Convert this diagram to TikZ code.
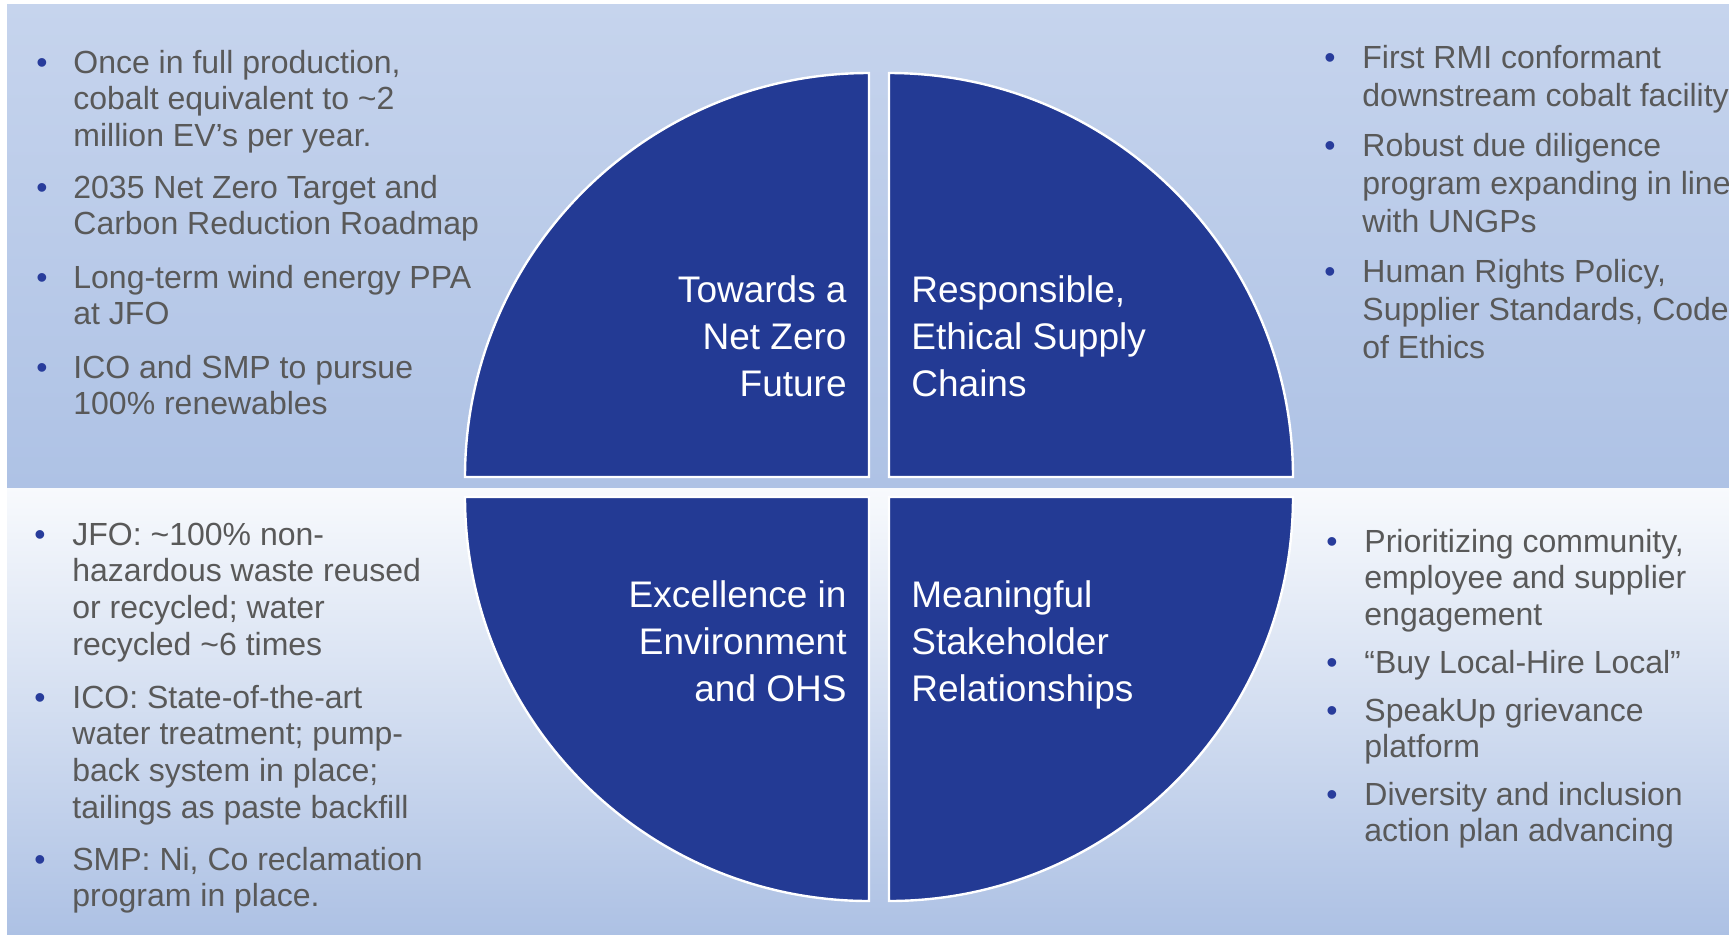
\documentclass[tikz,border=0pt]{standalone}
\usepackage{fontspec}
\setmainfont{Liberation Sans}
\definecolor{quadblue}{RGB}{35,58,148}
\definecolor{dotblue}{RGB}{40,60,155}
\definecolor{txtgray}{RGB}{89,89,89}
\definecolor{bandtopA}{RGB}{198,212,237}
\definecolor{bandbotA}{RGB}{174,194,229}
\definecolor{bandtopB}{RGB}{248,250,253}
\definecolor{bandbotB}{RGB}{173,193,228}
\tikzset{
  quad/.style={fill=quadblue, draw=white, line width=1.2pt},
  bul/.style={anchor=base west, inner sep=0pt, align=left, text=txtgray,
    font=\fontsize{16}{18.35}\selectfont},
  bulr/.style={bul, font=\fontsize{16}{19.1}\selectfont},
  bdot/.style={anchor=base, inner sep=0pt, text=dotblue, font=\fontsize{16}{18}\selectfont},
  lblL/.style={anchor=base east, inner sep=0pt, align=right, text=white,
    font=\fontsize{18.5}{23.5}\selectfont},
  lblR/.style={anchor=base west, inner sep=0pt, align=left, text=white,
    font=\fontsize{18.5}{23.5}\selectfont},
}
\begin{document}
\begin{tikzpicture}[x=0.5pt,y=-0.5pt]
\useasboundingbox (0,0) rectangle (1729,934);
\clip (0,0) rectangle (1729,934);
\fill[white] (0,0) rectangle (1729,934);
\shade[top color=bandtopA, bottom color=bandbotA] (7,4) rectangle (1729,487);
\shade[top color=bandtopB, bottom color=bandbotB] (7,488) rectangle (1729,934);

% quadrants
\draw[quad] (869,477) -- (465,477) arc[start angle=180, end angle=90, radius=202pt] -- cycle;
\draw[quad] (889,477) -- (889,73) arc[start angle=90, end angle=0, radius=202pt] -- cycle;
\draw[quad] (869,497) -- (465,497) arc[start angle=180, end angle=270, radius=202pt] -- cycle;
\draw[quad] (889,497) -- (1293,497) arc[start angle=0, end angle=-90, radius=202pt] -- cycle;

% quadrant labels (anchored at the baseline of the last line)
\node[lblL] (lnz) at (847,396) {Towards a\\Net Zero\\Future};
\node[lblR] (lrc) at (911,396) {Responsible,\\Ethical Supply\\Chains};
\node[lblL] (lex) at (847,701) {Excellence in\\Environment\\and OHS};
\node[lblR] (lms) at (911,701) {Meaningful\\Stakeholder\\Relationships};

% top-left bullets
\node[bdot] (tld1) at (42,73) {•};
\node[bul] (tl1) at (73,146.4) {Once in full production,\\cobalt equivalent to \textasciitilde2\\million EV’s per year.};
\node[bdot] (tld2) at (42,198) {•};
\node[bul] (tl2) at (73,234.7) {2035 Net Zero Target and\\Carbon Reduction Roadmap};
\node[bdot] (tld3) at (42,288) {•};
\node[bul] (tl3) at (73,324.7) {Long-term wind energy PPA\\at JFO};
\node[bdot] (tld4) at (42,378) {•};
\node[bul] (tl4) at (73,414.7) {ICO and SMP to pursue\\100\% renewables};

% top-right bullets
\node[bdot] (trd1) at (1330,68) {•};
\node[bulr] (tr1) at (1362,106.2) {First RMI conformant\\downstream cobalt facility};
\node[bdot] (trd2) at (1330,156) {•};
\node[bulr] (tr2) at (1362,232.4) {Robust due diligence\\program expanding in line\\with UNGPs};
\node[bdot] (trd3) at (1330,282) {•};
\node[bulr] (tr3) at (1362,358.4) {Human Rights Policy,\\Supplier Standards, Code\\of Ethics};

% bottom-left bullets
\node[bdot] (bld1) at (40,545) {•};
\node[bul] (bl1) at (72,655.1) {JFO: \textasciitilde100\% non-\\hazardous waste reused\\or recycled; water\\recycled \textasciitilde6 times};
\node[bdot] (bld2) at (40,708) {•};
\node[bul] (bl2) at (72,818.1) {ICO: State-of-the-art\\water treatment; pump-\\back system in place;\\tailings as paste backfill};
\node[bdot] (bld3) at (40,870) {•};
\node[bul] (bl3) at (72,906.7) {SMP: Ni, Co reclamation\\program in place.};

% bottom-right bullets
\node[bdot] (brd1) at (1332,552) {•};
\node[bul] (br1) at (1364,625.4) {Prioritizing community,\\employee and supplier\\engagement};
\node[bdot] (brd2) at (1332,673) {•};
\node[bul] (br2) at (1364,673) {“Buy Local-Hire Local”};
\node[bdot] (brd3) at (1332,721) {•};
\node[bul] (br3) at (1364,757.7) {SpeakUp grievance\\platform};
\node[bdot] (brd4) at (1332,805) {•};
\node[bul] (br4) at (1364,841.7) {Diversity and inclusion\\action plan advancing};
\end{tikzpicture}
\end{document}
